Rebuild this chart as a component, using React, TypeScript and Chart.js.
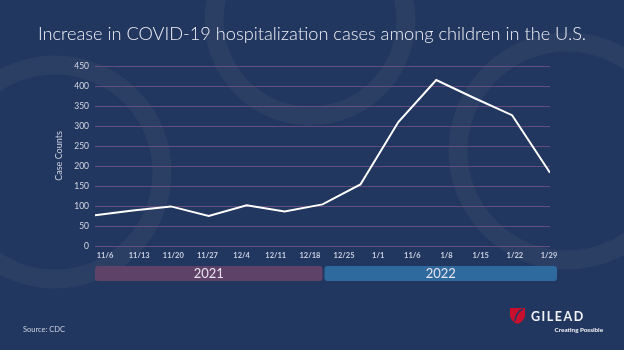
import React, { useEffect, useRef } from "react";
import { Chart, registerables } from "chart.js";

Chart.register(...registerables);

const tickLabels = ["11/6", "11/13", "11/20", "11/27", "12/4", "12/11", "12/18", "12/25", "1/1", "11/6", "1/8", "1/15", "1/22", "1/29"];
const caseCounts = [77, 89, 99, 75, 102, 86, 104, 154, 310, 415, 370, 327, 183];
const yearLabels = ["2021", "2022"];
const yearColors = ["#5e4268", "#2f6a9e"];
const titleText = "Increase in COVID-19 hospitalization cases among children in the U.S.";
const sourceText = "Source: CDC";
const yTitle = "Case Counts";

const FONT = "Lato, 'Open Sans', sans-serif";

const decor = {
  id: "decor",
  beforeDraw(chart: any) {
    const ctx = chart.ctx;
    ctx.save();
    ctx.fillStyle = "#22375f";
    ctx.fillRect(0, 0, chart.width, chart.height);
    ctx.strokeStyle = "rgba(255,255,255,0.045)";
    ctx.lineWidth = 19;
    const rings = [
      [310, 20, 96],
      [567, 151, 109],
      [55, 172, 107],
    ];
    for (const [cx, cy, r] of rings) {
      ctx.beginPath();
      ctx.arc(cx, cy, r, 0, Math.PI * 2);
      ctx.stroke();
    }
    ctx.restore();
  },
  afterDraw(chart: any) {
    const ctx = chart.ctx;
    const area = chart.chartArea;
    const xs = chart.scales.x;
    ctx.save();
    // title
    ctx.fillStyle = "#eef0f6";
    ctx.font = `300 18.2px ${FONT}`;
    ctx.textAlign = "center";
    ctx.textBaseline = "middle";
    ctx.fillText(titleText, 312, 34);

    // year bars
    const splitX = xs.getPixelForValue(6);
    const bars = [
      [area.left, splitX],
      [splitX + 2, area.right + 7],
    ];
    bars.forEach(([x0, x1], i) => {
      ctx.fillStyle = yearColors[i];
      ctx.beginPath();
      (ctx as any).roundRect(x0, 266, x1 - x0, 15, 3);
      ctx.fill();
      ctx.fillStyle = "#e6e2ee";
      ctx.font = `13px ${FONT}`;
      ctx.textAlign = "center";
      ctx.textBaseline = "middle";
      ctx.fillText(yearLabels[i], (x0 + x1) / 2, 274);
    });

    // source
    ctx.fillStyle = "#c9cfe0";
    ctx.font = `7.5px ${FONT}`;
    ctx.textAlign = "left";
    ctx.fillText(sourceText, 23, 330);

    // logo shield
    ctx.fillStyle = "#c8102e";
    ctx.beginPath();
    ctx.moveTo(510, 308);
    ctx.lineTo(525, 308);
    ctx.lineTo(525, 316);
    ctx.quadraticCurveTo(524, 321, 517.5, 324);
    ctx.quadraticCurveTo(511, 321, 510, 316);
    ctx.closePath();
    ctx.fill();
    ctx.strokeStyle = "#22375f";
    ctx.lineWidth = 1.6;
    ctx.beginPath();
    ctx.moveTo(515, 321);
    ctx.quadraticCurveTo(516, 312, 523, 309);
    ctx.stroke();

    ctx.fillStyle = "#f2f2f6";
    ctx.font = `bold 12.5px ${FONT}`;
    (ctx as any).letterSpacing = "1.5px";
    ctx.textAlign = "left";
    ctx.fillText("GILEAD", 531, 317);
    (ctx as any).letterSpacing = "0px";
    ctx.font = `bold 6.3px ${FONT}`;
    ctx.textAlign = "right";
    ctx.fillText("Creating Possible", 603, 330);
    ctx.restore();
  },
};

export default function App() {
  const ref = useRef<HTMLCanvasElement | null>(null);
  useEffect(() => {
    if (!ref.current) return;
    const chart = new Chart(ref.current, {
      type: "line",
      data: {
        datasets: [
          {
            data: caseCounts.map((v, i) => ({ x: i, y: v })),
            borderColor: "#ffffff",
            borderWidth: 2,
            pointRadius: 0,
            tension: 0,
            xAxisID: "x",
            yAxisID: "y",
          },
        ],
      },
      options: {
        animation: false,
        responsive: false,
        layout: { padding: { top: 66, left: 0, right: 74, bottom: 0 } },
        plugins: { legend: { display: false }, tooltip: { enabled: false } },
        scales: {
          x: { type: "linear", min: 0, max: caseCounts.length - 1, display: false },
          xl: {
            type: "linear",
            position: "bottom",
            min: -0.293,
            max: 13.03,
            afterBuildTicks: (scale: any) => {
              scale.ticks = tickLabels.map((_, i) => ({ value: i }));
            },
            afterFit: (scale: any) => {
              scale.height = 104;
            },
            grid: { display: false, drawTicks: false },
            border: { display: false },
            ticks: {
              autoSkip: false,
              maxRotation: 0,
              padding: 5,
              color: "#c9cfe0",
              font: { family: FONT, size: 7.5, weight: "bold" },
              callback: (v: any) => tickLabels[v] ?? "",
            },
          },
          y: {
            min: 0,
            max: 450,
            afterFit: (scale: any) => {
              scale.width = 95;
            },
            grid: { color: "#644d80", lineWidth: 1, drawTicks: false },
            border: { display: false },
            ticks: {
              stepSize: 50,
              padding: 6,
              color: "#d3d6e4",
              font: { family: FONT, size: 8.5 },
            },
            title: {
              display: true,
              text: yTitle,
              color: "#c9cfe0",
              font: { family: FONT, size: 9 },
              padding: { top: 54, bottom: 0 },
            },
          },
        },
      },
      plugins: [decor],
    });
    return () => chart.destroy();
  }, []);
  return (
    <div style={{ position: "fixed", left: 0, top: 0, width: 624, height: 350 }}>
      <canvas ref={ref} width={624} height={350} style={{ display: "block" }} />
    </div>
  );
}
